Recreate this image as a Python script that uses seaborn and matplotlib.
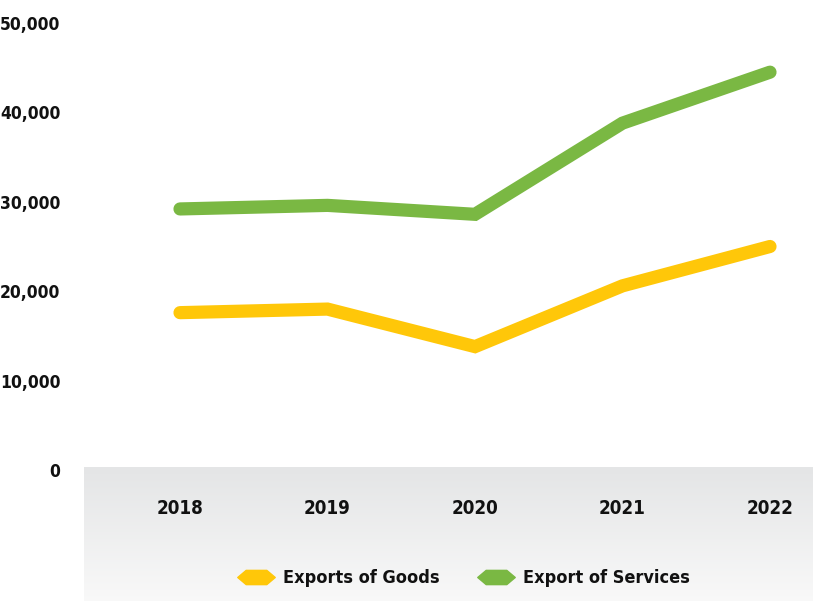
import numpy as np
import pandas as pd
import matplotlib
matplotlib.use("Agg")
import matplotlib.pyplot as plt
from matplotlib import font_manager
from matplotlib.lines import Line2D
from matplotlib.path import Path
import seaborn as sns

years = ["2018", "2019", "2020", "2021", "2022"]
goods = [17600, 18000, 13800, 20600, 25000]
services = [29200, 29600, 28600, 38800, 44500]
series_names = ["Exports of Goods", "Export of Services"]
yticks = [0, 10000, 20000, 30000, 40000, 50000]

colors = {"Exports of Goods": "#FFC709", "Export of Services": "#7AB843"}

sns.set_theme(style="white")

# pick the narrowest bold face on hand
names = {f.name for f in font_manager.fontManager.ttflist}
stretch = "normal"
if "Liberation Sans Narrow" in names:
    family = "Liberation Sans Narrow"
else:
    cond = font_manager.findfont(font_manager.FontProperties(
        family="DejaVu Sans", stretch="condensed", weight="bold"))
    if "Condensed" in cond:
        family, stretch = "DejaVu Sans", "condensed"
    else:
        family = "Roboto"
plt.rcParams["font.family"] = [family, "DejaVu Sans"]
plt.rcParams["font.weight"] = "bold"
plt.rcParams["font.stretch"] = stretch

df = pd.DataFrame({
    "Year": years * 2,
    "Value": goods + services,
    "Series": [series_names[0]] * len(years) + [series_names[1]] * len(years),
})
df["x"] = df["Year"].map({y: i for i, y in enumerate(years)})

W, H = 813, 601
fig = plt.figure(figsize=(W / 100, H / 100), dpi=100)
fig.patch.set_facecolor("white")

# grey gradient band under the baseline
band = fig.add_axes([84 / W, 0, (W - 84) / W, (H - 467) / H])
grad = np.linspace(0, 1, 256).reshape(-1, 1)
top = np.array([0.894, 0.898, 0.902])
bot = np.array([0.975, 0.975, 0.975])
img = top[None, None, :] * (1 - grad[:, :, None]) + bot[None, None, :] * grad[:, :, None]
band.imshow(img, aspect="auto", extent=[0, 1, 0, 1], origin="upper")
band.set_axis_off()
band.set_zorder(0)

ax = fig.add_axes([84 / W, (H - 470) / H, (W - 84) / W, 470 / H])
ax.set_zorder(1)
ax.patch.set_alpha(0)

sns.lineplot(data=df, x="x", y="Value", hue="Series", palette=colors,
             linewidth=9.5, solid_capstyle="round", solid_joinstyle="miter",
             legend=False, ax=ax)

# 2018 sits at x=180 px with 147.5 px per year; 0 at y=470 px, 89.4 px per 10k
left_i = (84 - 180) / 147.5
right_i = (813 - 180) / 147.5
ax.set_xlim(left_i, right_i)
ax.set_ylim(0, 470 / 89.4 * 10000)

ax.set_xticks(range(len(years)))
ax.set_xticklabels(years)
ax.set_yticks(yticks)
ax.set_yticklabels([f"{v:,}" for v in yticks])
ax.tick_params(axis="y", length=0, pad=17, labelsize=12.5, labelcolor="#111111")
ax.tick_params(axis="x", length=0, pad=21, labelsize=13.5, labelcolor="#111111")
for lab in ax.get_xticklabels() + ax.get_yticklabels():
    lab.set_fontweight("bold")
for s in ax.spines.values():
    s.set_visible(False)
ax.set_xlabel("")
ax.set_ylabel("")

hexagon = Path([(-1, 0), (-0.55, 0.38), (0.55, 0.38), (1, 0),
                (0.55, -0.38), (-0.55, -0.38), (-1, 0)],
               [Path.MOVETO] + [Path.LINETO] * 5 + [Path.CLOSEPOLY])
handles = [Line2D([], [], linestyle="none", marker=hexagon, markersize=27,
                  markerfacecolor=colors[n], markeredgecolor=colors[n])
           for n in series_names]
leg = fig.legend(handles, series_names, loc="center", bbox_to_anchor=(463 / W, 1 - 578 / H),
                 ncol=2, frameon=False, fontsize=13, handlelength=2.2,
                 handletextpad=0.4, columnspacing=2.0)
for t in leg.get_texts():
    t.set_fontweight("bold")
    t.set_color("#111111")

fig.savefig("out.png", dpi=100)
